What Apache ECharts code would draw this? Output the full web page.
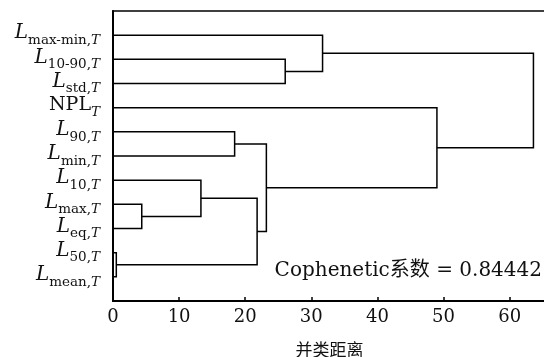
<!DOCTYPE html>
<html>
<head>
<meta charset="utf-8">
<script src="https://cdn.jsdelivr.net/npm/echarts@6/dist/echarts.min.js"></script>
<style>
  html, body { margin: 0; padding: 0; background: #fff; }
  #chart { width: 544px; height: 357px; }
</style>
</head>
<body>
<div id="chart"></div>
<script>
// Leaves of the dendrogram, top to bottom (subscripts of L; 'NPL' is upright)
const leafNames = ['max-min', '10-90', 'std', 'NPL', '90', 'min', '10', 'max', 'eq', '50', 'mean'];

// Linkage: [childA, childB]; ids 0..10 are leaves, 11.. are the clusters formed in order
const linkPairs = [[9, 10], [7, 8], [6, 12], [4, 5], [13, 11], [14, 15], [1, 2], [0, 17], [3, 16], [18, 19]];
// Merge distance of each link
const linkHeights = [0.5, 4.35, 13.3, 18.4, 21.8, 23.2, 26.05, 31.7, 49.0, 63.6];

// Distance axis ticks
const xTicks = [0, 10, 20, 30, 40, 50, 60];

const cophenetic = 'Cophenetic系数 = 0.84442';
const xName = '并类距离';

const SERIF = "'DejaVu Serif','Noto Sans CJK SC',serif";

// Node positions: leaves at 1..n, each cluster at the mean of its two children
const nodeY = leafNames.map((_, i) => i + 1);
const nodeX = leafNames.map(() => 0);
const links = linkPairs.map((pair, k) => {
  const [a, b] = pair;
  const h = linkHeights[k];
  const item = [nodeX[a], nodeY[a], h, nodeY[b], nodeX[b]];
  nodeY.push((nodeY[a] + nodeY[b]) / 2);
  nodeX.push(h);
  return item;
});

function leafLabel(v) {
  const i = Math.round(v) - 1;
  if (Math.abs(v - Math.round(v)) > 1e-6 || i < 0 || i >= leafNames.length) return '';
  const name = leafNames[i];
  if (name === 'NPL') return '{n|NPL}{t|T}';
  return '{L|L}{s|' + name + ',}{t|T}';
}

const chart = echarts.init(document.getElementById('chart'), null, { renderer: 'canvas' });

chart.setOption({
  animation: false,
  backgroundColor: '#fff',
  grid: {
    left: 113, right: -2, top: 11, bottom: 56,
    outerBoundsMode: 'none',
    containLabel: false,
    show: true, borderColor: '#000', borderWidth: 1.5, backgroundColor: 'transparent'
  },
  xAxis: {
    type: 'value',
    min: 0, max: 65.5, interval: 10,
    name: xName,
    nameLocation: 'middle',
    nameGap: 40,
    nameTextStyle: { fontFamily: "'Noto Sans CJK SC'", fontSize: 17, color: '#111' },
    axisLine: { show: true, onZero: false, lineStyle: { color: '#000', width: 2 } },
    axisTick: { show: true, inside: true, length: 4, lineStyle: { color: '#000', width: 1.5 } },
    axisLabel: {
      margin: 7,
      fontFamily: SERIF, fontSize: 18, color: '#111',
      showMaxLabel: false,
      formatter: v => (xTicks.indexOf(v) >= 0 ? String(v) : '')
    },
    splitLine: { show: false }
  },
  yAxis: {
    type: 'value',
    inverse: true,
    min: 0, max: 12, interval: 1,
    axisLine: { show: true, onZero: false, lineStyle: { color: '#000', width: 2 } },
    axisTick: { show: false },
    splitLine: { show: false },
    axisLabel: {
      margin: 13,
      showMinLabel: false,
      showMaxLabel: false,
      formatter: leafLabel,
      rich: {
        L: { fontFamily: SERIF, fontStyle: 'italic', fontSize: 20, lineHeight: 24, verticalAlign: 'top', color: '#111' },
        n: { fontFamily: SERIF, fontSize: 19, lineHeight: 24, verticalAlign: 'top', color: '#111' },
        s: { fontFamily: SERIF, fontSize: 13.5, lineHeight: 13, verticalAlign: 'bottom', color: '#111' },
        t: { fontFamily: SERIF, fontStyle: 'italic', fontSize: 13.5, lineHeight: 13, verticalAlign: 'bottom', color: '#111' }
      }
    }
  },
  graphic: [{
    type: 'text',
    right: 2,
    top: 261,
    style: {
      text: cophenetic,
      font: '20px ' + SERIF,
      fill: '#111'
    }
  }],
  series: [{
    type: 'custom',
    coordinateSystem: 'cartesian2d',
    encode: { x: [0, 2, 4], y: [1, 3] },
    data: links,
    renderItem: function (params, api) {
      const p1 = api.coord([api.value(0), api.value(1)]);
      const p2 = api.coord([api.value(2), api.value(1)]);
      const p3 = api.coord([api.value(2), api.value(3)]);
      const p4 = api.coord([api.value(4), api.value(3)]);
      return {
        type: 'polyline',
        shape: { points: [p1, p2, p3, p4] },
        style: { stroke: '#000', lineWidth: 1.5, fill: null }
      };
    }
  }]
});
</script>
</body>
</html>
